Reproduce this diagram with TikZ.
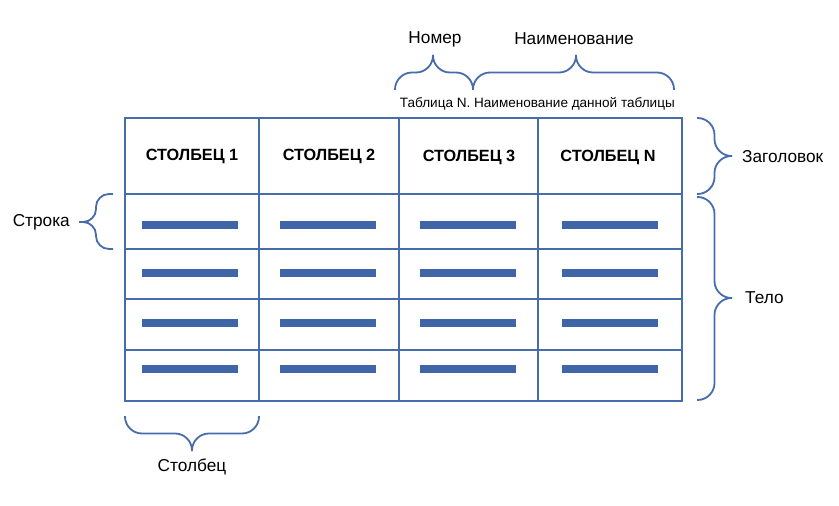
\documentclass[tikz,border=0pt]{standalone}
\usepackage{fontspec}
\setmainfont{Liberation Sans}
\usetikzlibrary{positioning}
\definecolor{tableblue}{RGB}{70,108,172}
\definecolor{barblue}{RGB}{63,101,166}

\begin{document}
\begin{tikzpicture}
              [x=1bp,y=-1bp,
                every node/.style={draw=none,fill=none,inner sep=0pt,font=\fontsize{17.3}{20}\selectfont},
                head/.style={font=\fontsize{16.3}{19}\selectfont\bfseries},
                caption/.style={font=\fontsize{13.6}{16}\selectfont},
                grid/.style={draw=tableblue,line width=2bp},
                bar/.style={draw=barblue,line width=8bp},
                brace/.style={draw=tableblue,line width=1.8bp,rounded corners=17bp},
                smallbrace/.style={brace,rounded corners=13bp}]
              \useasboundingbox (0,0) rectangle (839,506);
              % table frame and rules
              \draw[grid] (125,118) rectangle (682,401);
              \draw[grid] (259,118) -- (259,401) (399,118) -- (399,401) (538,118) -- (538,401);
              \draw[grid] (125,194) -- (682,194) (125,249) -- (682,249) (125,299) -- (682,299) (125,350) -- (682,350);
              \node[head] (c1) at (192,156) {СТОЛБЕЦ 1};
              \node[head] (c2) at (329,156) {СТОЛБЕЦ 2};
              \node[head] (c3) at (469,157) {СТОЛБЕЦ 3};
              \node[head] (cn) at (608,157) {СТОЛБЕЦ N};
              \foreach \x in {190,328,468,610}
                \foreach \y in {225,273,323,369}
                  \draw[bar] (\x-48,\y) -- (\x+48,\y);
              % caption and braces
              \node[caption,anchor=east] (cap) at (675,104) {Таблица N. Наименование данной таблицы};
              \coordinate (numtip) at (433,55);
              \coordinate (nametip) at (576,55);
              \draw[brace] (395,90) |- (numtip |- 0,72.5) -- (numtip);
              \draw[brace] (473,90) |- (numtip |- 0,72.5) -- (numtip);
              \draw[brace] (473,90) |- (nametip |- 0,72.5) -- (nametip);
              \draw[brace] (674,90) |- (nametip |- 0,72.5) -- (nametip);
              \node (num) at (435,39) {Номер};
              \node (name) at (574,39) {Наименование};
              \coordinate (hdrtip) at (732,156);
              \coordinate (bodytip) at (732,298);
              \draw[brace] (697,118) -| (714.5,0 |- hdrtip) -- (hdrtip);
              \draw[brace] (697,194) -| (714.5,0 |- hdrtip) -- (hdrtip);
              \draw[brace] (697,197) -| (714.5,0 |- bodytip) -- (bodytip);
              \draw[brace] (697,400) -| (714.5,0 |- bodytip) -- (bodytip);
              \node[anchor=west] (hdr) at (742,157) {Заголовок};
              \node[anchor=west] (body) at (745,298) {Тело};
              \coordinate (rowtip) at (79,222);
              \draw[smallbrace] (113,194) -| (96,0 |- rowtip) -- (rowtip);
              \draw[smallbrace] (113,249) -| (96,0 |- rowtip) -- (rowtip);
              \node[anchor=east] (row) at (70,222) {Строка};
              \coordinate (coltip) at (192,451);
              \draw[brace] (125,416) |- (coltip |- 0,433.5) -- (coltip);
              \draw[brace] (259,416) |- (coltip |- 0,433.5) -- (coltip);
              \node (col) at (192,467) {Столбец};
            \end{tikzpicture}
\end{document}
